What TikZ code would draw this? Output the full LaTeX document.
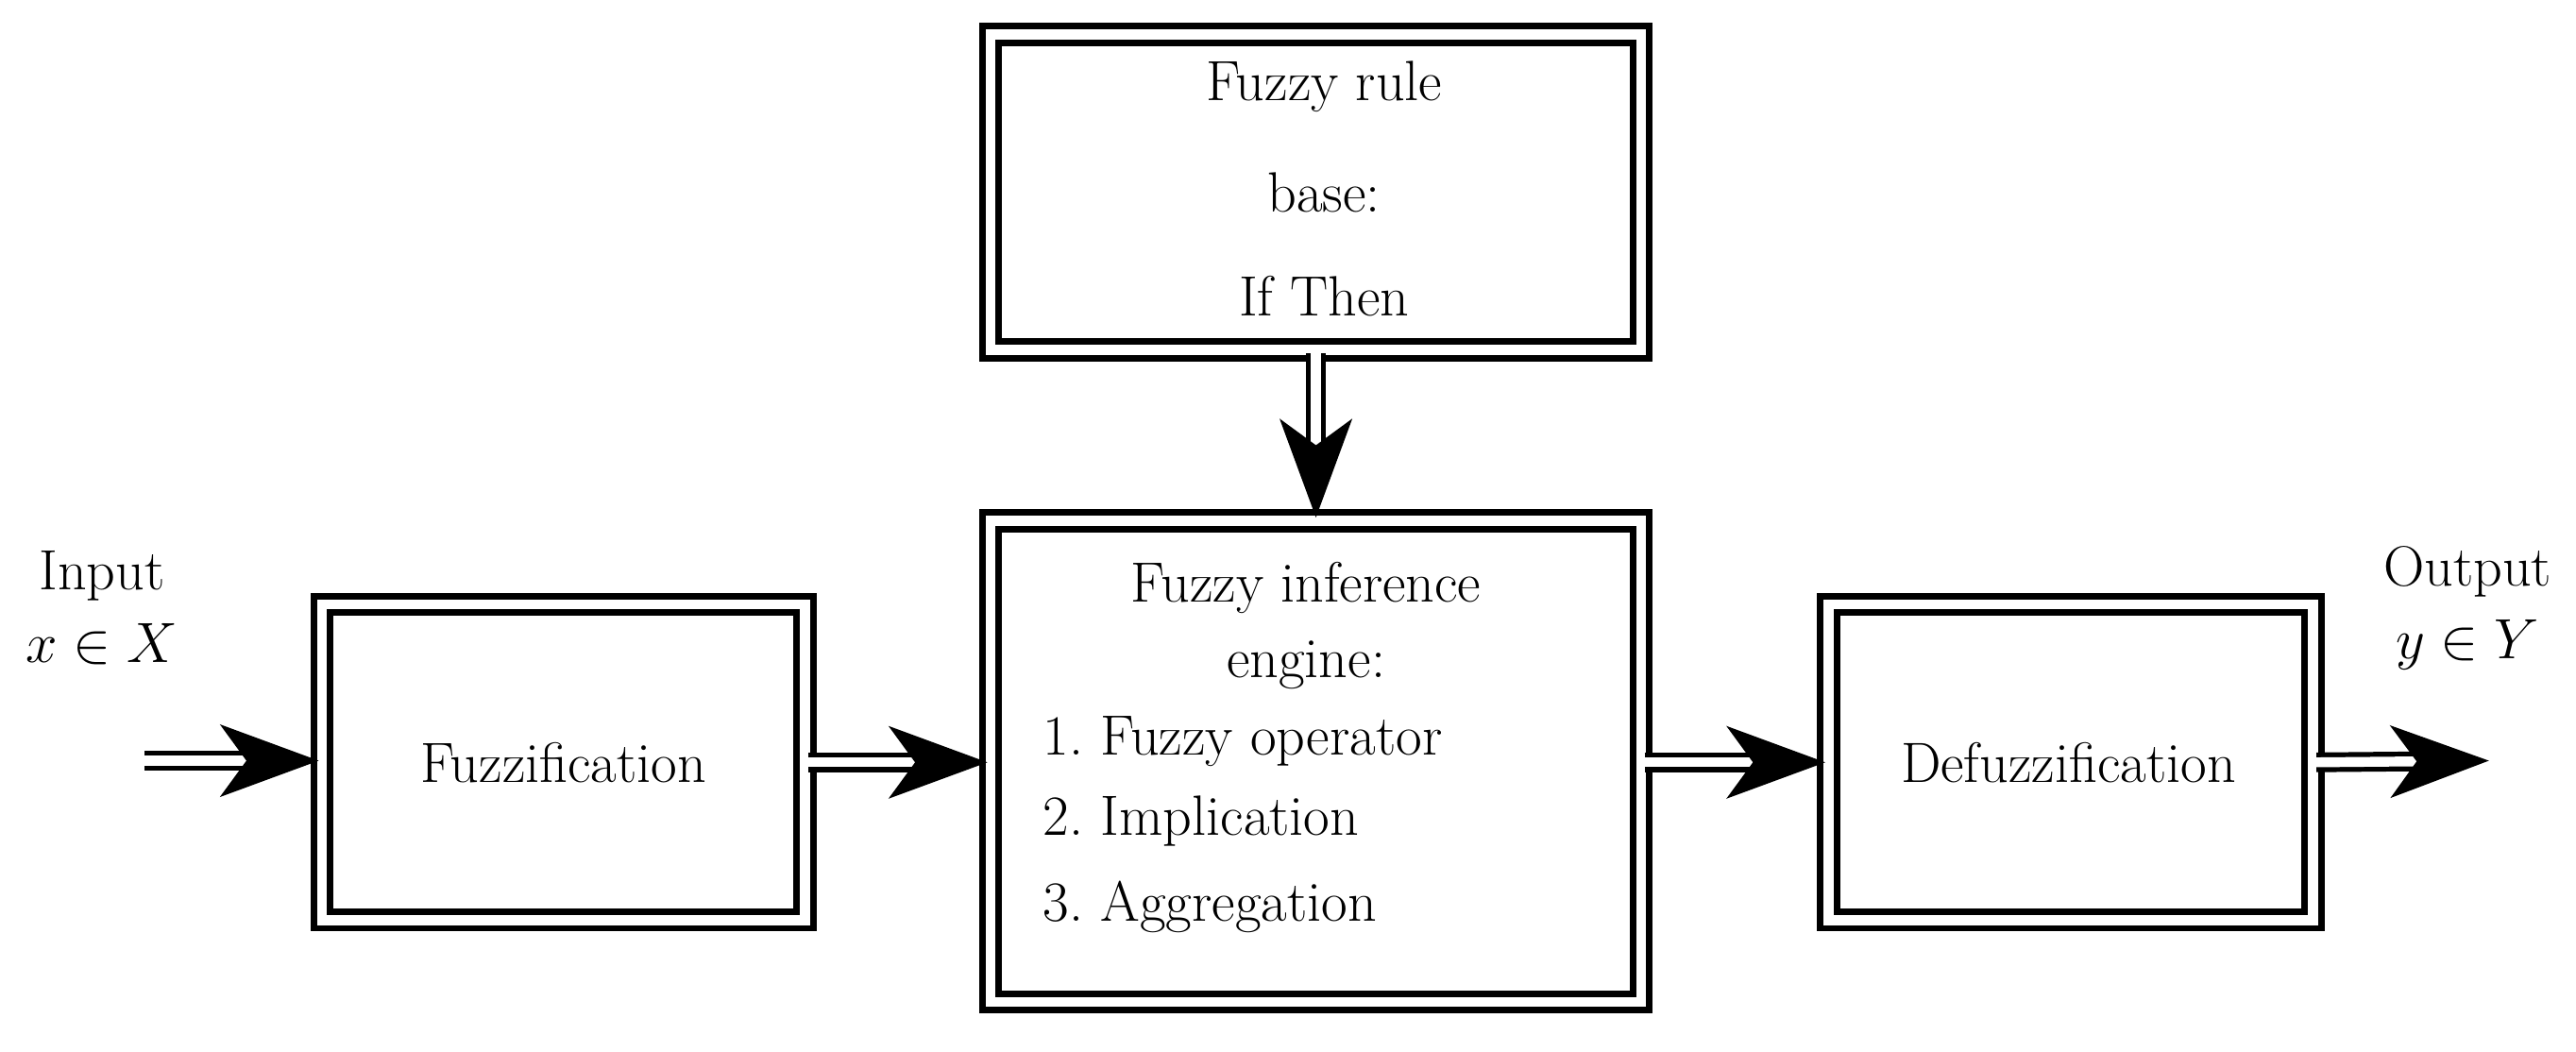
\documentclass[tikz,border=0pt]{standalone}
\usetikzlibrary{arrows.meta}
\begin{document}
\begin{tikzpicture}[x=0.5pt,y=-0.5pt,font=\LARGE]
    \tikzstyle{block}=[draw,line width=2pt,double,double distance=3pt,inner sep=0pt]
    \tikzstyle{flow}=[line width=1.5pt,double,double distance=3pt,-{Stealth[length=30pt,width=22pt,inset=8pt]}]
    \tikzstyle{annot}=[align=center]
    \useasboundingbox (0,0) rectangle (1568,640);

    % Draw the blocks
    \node[block,minimum width=198pt,minimum height=96pt] (rule) at (801,117) {};
    \node[block,minimum width=198pt,minimum height=146.5pt] (engine) at (801,463.5) {};
    \node[block,minimum width=147pt,minimum height=96pt] (fuzz) at (343,464) {};
    \node[block,minimum width=147.5pt,minimum height=96pt] (defuzz) at (1260.5,464) {};

    % Texts of the blocks
    \node (r1) at (806,53) {Fuzzy rule};
    \node (r2) at (806,117) {base:};
    \node (r3) at (806,180) {If Then};
    \node (e1) at (795,358) {Fuzzy inference};
    \node (e2) at (795,405) {engine:};
    \node[anchor=west] (e3) at (628,451) {1.\ Fuzzy operator};
    \node[anchor=west] (e4) at (628,500) {2.\ Implication};
    \node[anchor=west] (e5) at (628,552) {3.\ Aggregation};
    \node (f) at (343,464) {Fuzzification};
    \node (d) at (1259,464) {Defuzzification};

    % Input and output
    \node[annot] (in) at (62,370) {Input\\$x\in X$};
    \node[annot] (out) at (1502,370) {Output\\$y\in Y$};
    \coordinate (src) at (88,463);
    \coordinate (dst) at (1515,463);

    % Connect the blocks
    \draw[flow] (src) -- (src -| fuzz.west);
    \draw[flow] (fuzz.east) -- (engine.west |- fuzz.east);
    \draw[flow] (engine.east |- defuzz.west) -- (defuzz.west);
    \draw[flow] (defuzz.east) -- (dst);
    \draw[flow] (rule.south) -- (engine.north);
\end{tikzpicture}
\end{document}
